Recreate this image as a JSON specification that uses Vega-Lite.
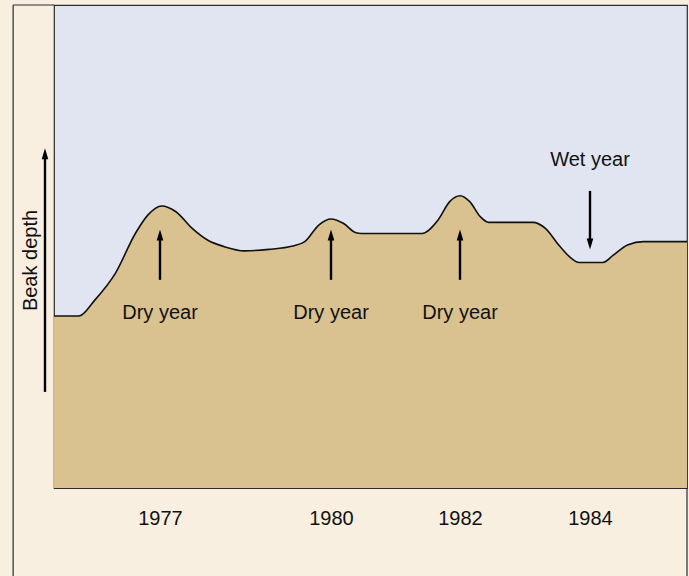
{
  "$schema": "https://vega.github.io/schema/vega-lite/v6.json",
  "width": 633,
  "height": 483,
  "autosize": {"type": "none"},
  "padding": {"left": 54, "top": 5, "right": 2, "bottom": 88},
  "background": "#f8efe0",
  "config": {
    "view": {"fill": "#e0e5f1", "stroke": "#2b2b2b", "strokeWidth": 1.2},
    "font": "Liberation Sans"
  },
  "datasets": {
    "curve": [
      {"year": 1975.00, "depth": 35.6},
      {"year": 1975.47, "depth": 35.6},
      {"year": 1975.77, "depth": 38.9},
      {"year": 1976.16, "depth": 44.5},
      {"year": 1976.54, "depth": 52.8},
      {"year": 1976.77, "depth": 56.5},
      {"year": 1977.03, "depth": 58.4},
      {"year": 1977.28, "depth": 57.2},
      {"year": 1977.56, "depth": 53.8},
      {"year": 1977.84, "depth": 51.3},
      {"year": 1978.12, "depth": 50.0},
      {"year": 1978.48, "depth": 49.1},
      {"year": 1978.91, "depth": 49.4},
      {"year": 1979.33, "depth": 50.1},
      {"year": 1979.54, "depth": 51.0},
      {"year": 1979.79, "depth": 54.5},
      {"year": 1980.00, "depth": 55.7},
      {"year": 1980.19, "depth": 54.8},
      {"year": 1980.38, "depth": 52.9},
      {"year": 1980.47, "depth": 52.7},
      {"year": 1981.41, "depth": 52.7},
      {"year": 1981.66, "depth": 55.5},
      {"year": 1981.84, "depth": 59.3},
      {"year": 1982.00, "depth": 60.5},
      {"year": 1982.15, "depth": 59.3},
      {"year": 1982.31, "depth": 56.2},
      {"year": 1982.44, "depth": 55.0},
      {"year": 1983.12, "depth": 55.0},
      {"year": 1983.31, "depth": 53.8},
      {"year": 1983.52, "depth": 50.3},
      {"year": 1983.71, "depth": 47.6},
      {"year": 1983.83, "depth": 46.7},
      {"year": 1984.20, "depth": 46.7},
      {"year": 1984.36, "depth": 48.2},
      {"year": 1984.58, "depth": 50.3},
      {"year": 1984.83, "depth": 51.0},
      {"year": 1985.50, "depth": 51.0}
    ],
    "arrows": [
      {"year": 1977, "from": 43.1, "to": 52.4, "dir": "up"},
      {"year": 1980, "from": 43.1, "to": 52.4, "dir": "up"},
      {"year": 1982, "from": 43.1, "to": 52.4, "dir": "up"},
      {"year": 1984, "from": 61.5, "to": 50.5, "dir": "down"},
      {"year": 1974.83, "from": 19.9, "to": 69.2, "dir": "up"}
    ],
    "labels": [
      {"year": 1977, "depth": 35.0, "text": "Dry year"},
      {"year": 1980, "depth": 35.0, "text": "Dry year"},
      {"year": 1982, "depth": 35.0, "text": "Dry year"},
      {"year": 1984, "depth": 66.7, "text": "Wet year"}
    ]
  },
  "layer": [
    {
      "data": {"name": "curve"},
      "mark": {"type": "area", "interpolate": "monotone", "color": "#d9c28f"},
      "encoding": {
        "x": {
          "field": "year",
          "type": "quantitative",
          "scale": {"type": "linear", "domain": [1975, 1977, 1980, 1982, 1984, 1985.5], "range": [0, 106, 277, 406, 536, 633], "nice": false, "zero": false},
          "axis": {
            "values": [1977, 1980, 1982, 1984],
            "format": "d",
            "title": null,
            "domain": false,
            "ticks": false,
            "tickSize": 0,
            "grid": false,
            "labelFontSize": 20,
            "labelFont": "Liberation Sans",
            "labelColor": "#111111",
            "labelPadding": 36,
            "labelBaseline": "alphabetic",
            "labelFlush": false,
            "labelOverlap": false
          }
        },
        "y": {
          "field": "depth",
          "type": "quantitative",
          "scale": {"domain": [0, 100], "nice": false, "zero": false},
          "axis": {
            "title": "Beak depth",
            "labels": false,
            "ticks": false,
            "domain": false,
            "grid": false,
            "titleFont": "Liberation Sans",
            "titleFontSize": 20,
            "titleFontWeight": "normal",
            "titleColor": "#111111",
            "titleAngle": -90,
            "titleX": -24,
            "titleY": 255,
            "titleAlign": "center",
            "titleBaseline": "middle"
          }
        }
      }
    },
    {
      "data": {"name": "curve"},
      "mark": {"type": "line", "interpolate": "monotone", "color": "#111111", "strokeWidth": 1.6},
      "encoding": {
        "x": {"field": "year", "type": "quantitative"},
        "y": {"field": "depth", "type": "quantitative"}
      }
    },
    {
      "data": {"name": "arrows"},
      "mark": {"type": "rule", "color": "#000000", "strokeWidth": 2.4},
      "encoding": {
        "x": {"field": "year", "type": "quantitative"},
        "y": {"field": "from", "type": "quantitative"},
        "y2": {"field": "to"}
      }
    },
    {
      "data": {"name": "arrows"},
      "mark": {"type": "point", "filled": true, "color": "#000000", "opacity": 1, "size": 121, "strokeWidth": 0},
      "encoding": {
        "x": {"field": "year", "type": "quantitative"},
        "y": {"field": "to", "type": "quantitative"},
        "shape": {
          "field": "dir",
          "type": "nominal",
          "scale": {"domain": ["up", "down"], "range": ["M0,-1L0.6,1L-0.6,1Z", "M0,1L0.6,-1L-0.6,-1Z"]},
          "legend": null
        }
      }
    },
    {
      "data": {"name": "labels"},
      "mark": {"type": "text", "font": "Liberation Sans", "fontSize": 20, "color": "#111111", "align": "center", "baseline": "alphabetic"},
      "encoding": {
        "x": {"field": "year", "type": "quantitative"},
        "y": {"field": "depth", "type": "quantitative"},
        "text": {"field": "text"}
      }
    },
    {
      "data": {"values": [{}]},
      "mark": {"type": "rule", "color": "#2b2b2b", "strokeWidth": 1.2},
      "encoding": {
        "x": {"datum": 1974.229, "type": "quantitative"},
        "y": {"datum": 100, "type": "quantitative"},
        "y2": {"datum": -25}
      }
    },
    {
      "data": {"values": [{}]},
      "mark": {"type": "rule", "color": "#2b2b2b", "strokeWidth": 1.2},
      "encoding": {
        "x": {"datum": 1974.229, "type": "quantitative"},
        "x2": {"datum": 1975},
        "y": {"datum": 100, "type": "quantitative"}
      }
    },
    {
      "data": {"values": [{}]},
      "mark": {"type": "rule", "color": "#2b2b2b", "strokeWidth": 1.2},
      "encoding": {
        "x": {"datum": 1985.5, "type": "quantitative"},
        "y": {"datum": 0, "type": "quantitative"},
        "y2": {"datum": -25}
      }
    }
  ]
}
